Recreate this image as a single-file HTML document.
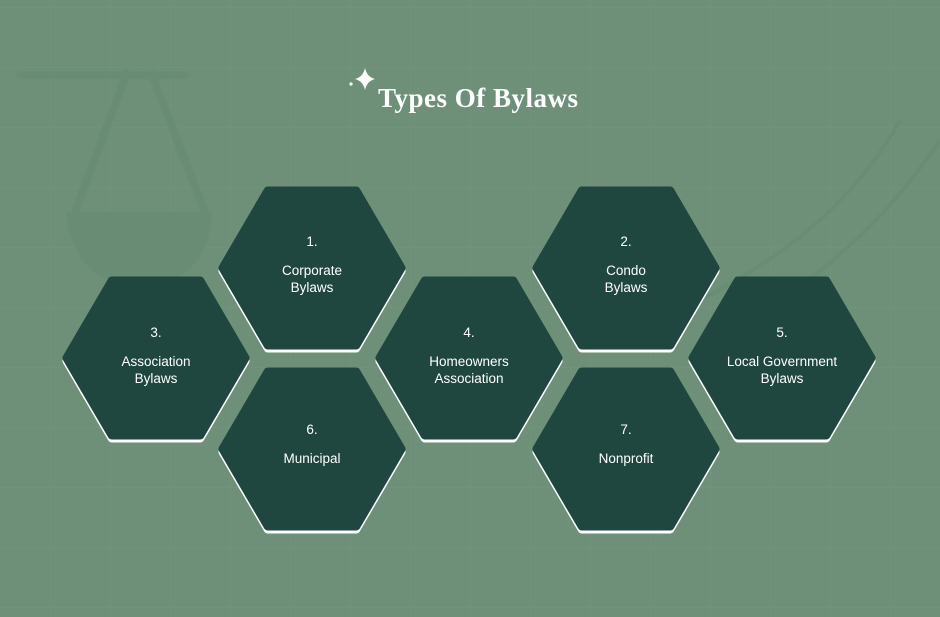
<!DOCTYPE html>
<html><head><meta charset="utf-8"><style>
html,body{margin:0;padding:0;background:#6e9079;}
svg{display:block}
text{font-family:"Liberation Sans",sans-serif;fill:#fff;}
.w{fill:#fff;stroke:#fff;stroke-width:9;stroke-linejoin:round}
.d{fill:#1f463f;stroke:#1f463f;stroke-width:9;stroke-linejoin:round}
</style></head><body>
<svg width="940" height="617" viewBox="0 0 940 617" xmlns="http://www.w3.org/2000/svg">
<defs>
<pattern id="g" width="60" height="60" patternUnits="userSpaceOnUse" x="-10" y="7">
<path d="M0 0H60M0 0V60" stroke="#789a83" stroke-width="1" fill="none" opacity="0.6"/>
</pattern>
</defs>
<rect width="940" height="617" fill="#6e9079"/>
<rect width="940" height="617" fill="url(#g)"/>
<g fill="none" stroke="#698c75" stroke-width="8">
<line x1="20" y1="75" x2="185" y2="75" stroke-linecap="round"/>
<line x1="128" y1="70" x2="75" y2="212"/>
<line x1="150" y1="70" x2="205" y2="212"/>
<path d="M900 120 Q840 230 700 300" stroke-width="4"/>
<path d="M940 140 Q860 260 730 330" stroke-width="4"/>
</g>
<path d="M66 212 L212 212 Q210 280 140 290 Q72 280 66 212Z" fill="#698c75"/>
<path d="M365 68 Q367 77 375 79 Q367 81 365 90 Q363 81 355 79 Q363 77 365 68Z" fill="#fff"/>
<circle cx="351" cy="84" r="1.6" fill="#fff"/>
<text x="378" y="107" style="font-family:'Liberation Serif',serif;font-weight:bold;font-size:27px;letter-spacing:0.5px">Types Of Bylaws</text>
<g id="hexes">
<g transform="translate(312,268)"><path class="w" transform="translate(0,3)" d="M-44 -77 L44 -77 L89 0 L44 77 L-44 77 L-89 0 Z"/><path class="d" d="M-44 -77 L44 -77 L89 0 L44 77 L-44 77 L-89 0 Z"/></g>
<g transform="translate(626,268)"><path class="w" transform="translate(0,3)" d="M-44 -77 L44 -77 L89 0 L44 77 L-44 77 L-89 0 Z"/><path class="d" d="M-44 -77 L44 -77 L89 0 L44 77 L-44 77 L-89 0 Z"/></g>
<g transform="translate(156,358)"><path class="w" transform="translate(0,3)" d="M-44 -77 L44 -77 L89 0 L44 77 L-44 77 L-89 0 Z"/><path class="d" d="M-44 -77 L44 -77 L89 0 L44 77 L-44 77 L-89 0 Z"/></g>
<g transform="translate(469,358)"><path class="w" transform="translate(0,3)" d="M-44 -77 L44 -77 L89 0 L44 77 L-44 77 L-89 0 Z"/><path class="d" d="M-44 -77 L44 -77 L89 0 L44 77 L-44 77 L-89 0 Z"/></g>
<g transform="translate(782,358)"><path class="w" transform="translate(0,3)" d="M-44 -77 L44 -77 L89 0 L44 77 L-44 77 L-89 0 Z"/><path class="d" d="M-44 -77 L44 -77 L89 0 L44 77 L-44 77 L-89 0 Z"/></g>
<g transform="translate(312,449)"><path class="w" transform="translate(0,3)" d="M-44 -77 L44 -77 L89 0 L44 77 L-44 77 L-89 0 Z"/><path class="d" d="M-44 -77 L44 -77 L89 0 L44 77 L-44 77 L-89 0 Z"/></g>
<g transform="translate(626,449)"><path class="w" transform="translate(0,3)" d="M-44 -77 L44 -77 L89 0 L44 77 L-44 77 L-89 0 Z"/><path class="d" d="M-44 -77 L44 -77 L89 0 L44 77 L-44 77 L-89 0 Z"/></g>
</g>
<g font-size="13.5" text-anchor="middle">
<text x="312" y="246">1.</text><text x="312" y="275">Corporate</text><text x="312" y="292">Bylaws</text>
<text x="626" y="246">2.</text><text x="626" y="275">Condo</text><text x="626" y="292">Bylaws</text>
<text x="156" y="337">3.</text><text x="156" y="366">Association</text><text x="156" y="383">Bylaws</text>
<text x="469" y="337">4.</text><text x="469" y="366">Homeowners</text><text x="469" y="383">Association</text>
<text x="782" y="337">5.</text><text x="782" y="366">Local Government</text><text x="782" y="383">Bylaws</text>
<text x="312" y="434">6.</text><text x="312" y="463">Municipal</text>
<text x="626" y="434">7.</text><text x="626" y="463">Nonprofit</text>
</g>
</svg>
</body></html>
